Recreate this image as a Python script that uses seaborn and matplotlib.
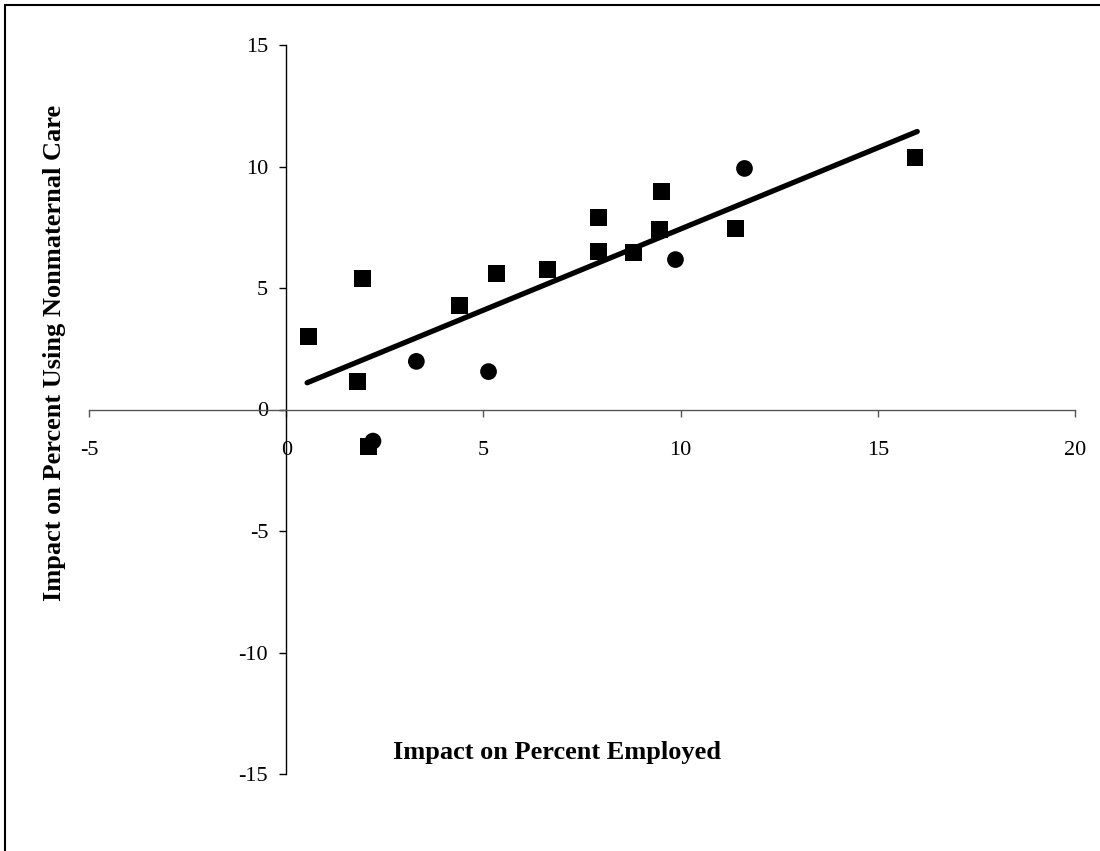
import matplotlib
matplotlib.use("Agg")
import matplotlib.pyplot as plt
from matplotlib.lines import Line2D
import seaborn as sns
import pandas as pd

# squares and circles
sq_x = [0.56, 1.8, 1.93, 2.08, 4.39, 5.33, 6.62, 7.92, 7.92, 8.8, 9.52, 9.47, 11.4, 15.94]
sq_y = [3.0, 1.15, 5.39, -1.52, 4.28, 5.6, 5.76, 7.9, 6.5, 6.46, 8.97, 7.4, 7.45, 10.37]
ci_x = [2.2, 3.3, 5.13, 9.87, 11.62]
ci_y = [-1.3, 1.98, 1.56, 6.17, 9.92]

# trend line ends
fit_x = [0.53, 16.0]
fit_y = [1.1, 11.44]

x_ticks = [-5, 0, 5, 10, 15, 20]
y_ticks = [-15, -10, -5, 0, 5, 10, 15]

df = pd.DataFrame({
    "x": sq_x + ci_x,
    "y": sq_y + ci_y,
    "group": ["square"] * len(sq_x) + ["circle"] * len(ci_x),
})

sns.set_theme(style="white")
plt.rcParams["font.family"] = ["Liberation Serif", "DejaVu Serif"]
plt.rcParams["axes.unicode_minus"] = False
plt.rcParams["text.color"] = "black"

W, H = 1100, 851
fig = plt.figure(figsize=(W / 100, H / 100), dpi=100)
ax = fig.add_axes([89 / W, 1 - 774 / H, (1075 - 89) / W, (774 - 45) / H])

sns.scatterplot(data=df, x="x", y="y", style="group",
                markers={"square": "s", "circle": "o"},
                s=145, color="black", edgecolor="black", linewidth=0,
                legend=False, ax=ax, zorder=3)
sns.lineplot(x=fit_x, y=fit_y, color="black", linewidth=3.8, ax=ax, zorder=4)

ax.set_xlim(-5, 20)
ax.set_ylim(-15, 15)
ax.set_xticks(x_ticks)
ax.set_yticks(y_ticks)
ax.set_xlabel("")
ax.set_ylabel("")

for s in ["top", "right"]:
    ax.spines[s].set_visible(False)
ax.spines["left"].set_position(("data", 0))
ax.spines["bottom"].set_position(("data", 0))
ax.spines["left"].set_color("black")
ax.spines["bottom"].set_color("#555555")
ax.spines["left"].set_linewidth(1.0)
ax.spines["bottom"].set_linewidth(1.0)

ax.tick_params(axis="x", bottom=True, direction="out", length=5, width=1,
               color="#555555", pad=18, labelsize=16, labelcolor="black")
ax.tick_params(axis="y", left=True, direction="out", length=5, width=1,
               color="black", pad=8, labelsize=16, labelcolor="black")

fig.text(557 / W, 1 - 753 / H, "Impact on Percent Employed",
         ha="center", va="center", fontsize=19, fontweight="bold", color="black")
fig.text(55 / W, 1 - 353 / H, "Impact on Percent Using Nonmaternal Care",
         ha="center", va="center", rotation=90, fontsize=19, fontweight="bold",
         color="black")

# frame around the chart area
fig.add_artist(Line2D([5 / W, 1], [1 - 5 / H, 1 - 5 / H], transform=fig.transFigure,
                      color="black", linewidth=1.5))
fig.add_artist(Line2D([5 / W, 5 / W], [0, 1 - 5 / H], transform=fig.transFigure,
                      color="black", linewidth=1.5))

fig.savefig("out.png", dpi=100, facecolor="white")
